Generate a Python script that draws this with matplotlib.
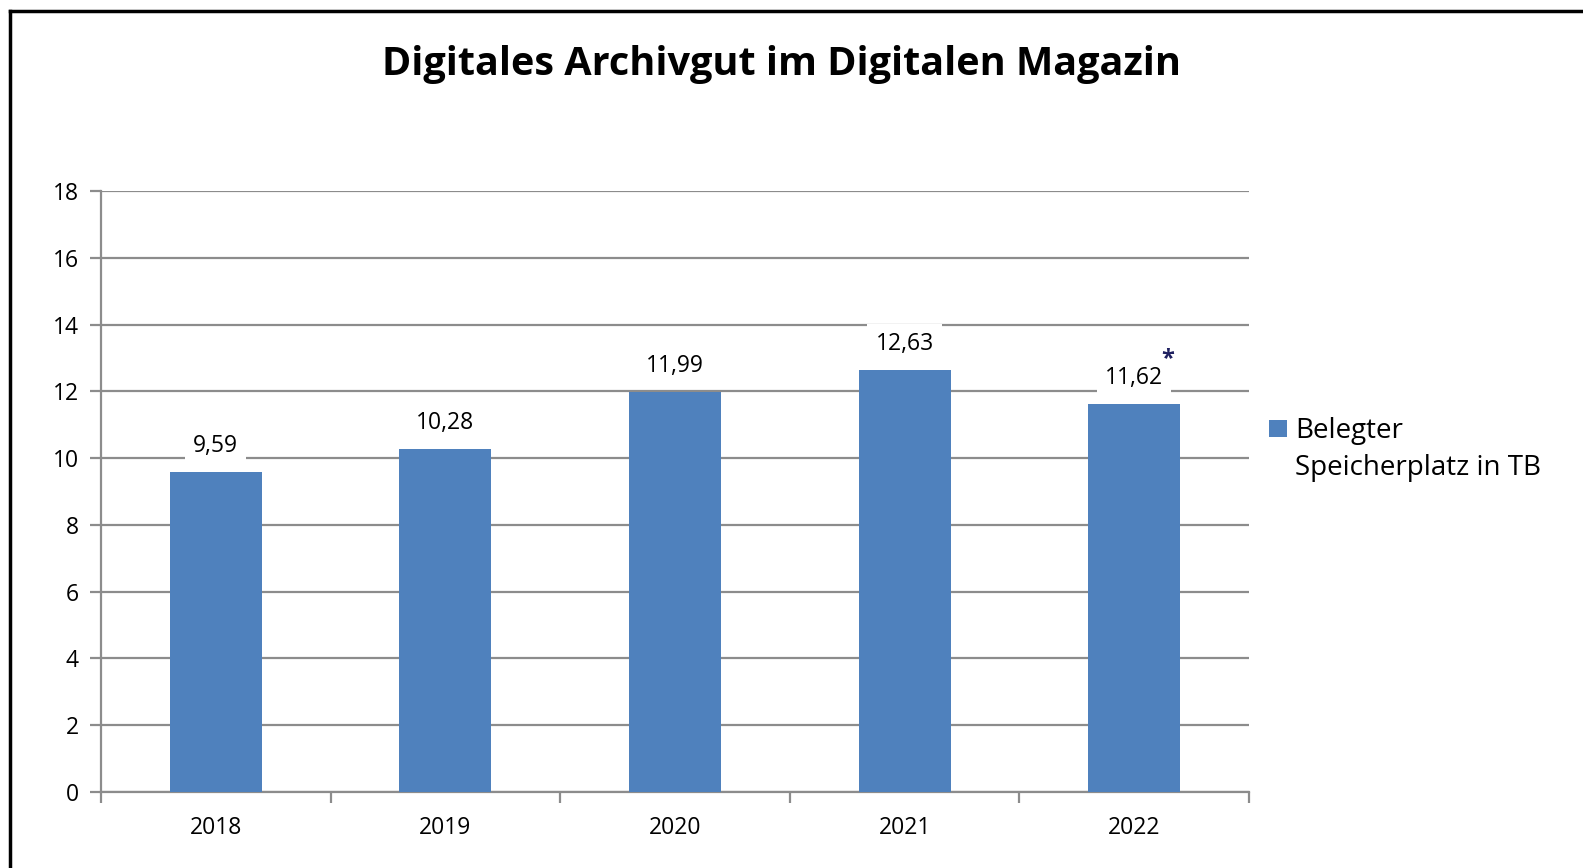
import numpy as np
import matplotlib.pyplot as plt
from matplotlib.lines import Line2D
from matplotlib.patches import Rectangle

years = ["2018", "2019", "2020", "2021", "2022"]
values = [9.59, 10.28, 11.99, 12.63, 11.62]
value_labels = ["9,59", "10,28", "11,99", "12,63", "11,62"]
legend_label = "Belegter\nSpeicherplatz in TB"
title = "Digitales Archivgut im Digitalen Magazin"

bar_color = "#4F81BD"
grid_color = "#8C8C8C"

plt.rcParams['font.family'] = ['Open Sans', 'DejaVu Sans']

fig = plt.figure(figsize=(15.83, 8.68), dpi=100)
W, H = 1583, 868
ax = fig.add_axes([101 / W, 1 - 792 / H, (1249 - 101) / W, (792 - 191) / H])

x = np.arange(len(years))
ax.bar(x, values, width=0.4, color=bar_color, zorder=3)

ax.set_xlim(-0.5, len(years) - 0.5)
ax.set_ylim(0, 18)
ax.set_yticks(np.arange(0, 19, 2))
ax.yaxis.grid(True, color=grid_color, linewidth=1.6, zorder=0)
ax.set_xticks(x)
ax.set_xticklabels(years, fontsize=16.5)
ax.set_xticks(np.arange(-0.5, len(years), 1), minor=True)
ax.tick_params(axis='x', which='major', length=0, pad=17)
ax.tick_params(axis='x', which='minor', length=8, width=1.6, color=grid_color, direction='out')
ax.tick_params(axis='y', length=8, width=1.6, color=grid_color, labelsize=16.5, pad=8)
for s in ['top', 'right']:
    ax.spines[s].set_visible(False)
for s in ['left', 'bottom']:
    ax.spines[s].set_color(grid_color)
    ax.spines[s].set_linewidth(1.6)

for xi, v, lab in zip(x, values, value_labels):
    ax.annotate(lab, (xi, v), xytext=(0, 10), textcoords='offset points',
                ha='center', va='bottom', fontsize=16.5, zorder=4,
                bbox=dict(boxstyle='square,pad=0.35', fc='white', ec='none'))
ax.annotate("*", (x[-1], values[-1]), xytext=(24, 24), textcoords='offset points',
            ha='center', va='bottom', fontsize=17, fontweight='bold', color='#1F2060', zorder=5)

# legend drawn by hand so the square sits on the first line
fig.add_artist(Rectangle((1269 / W, 1 - 437 / H), 18 / W, 17 / H,
                         transform=fig.transFigure, facecolor=bar_color, edgecolor='none'))
fig.text(1295 / W, 1 - 417 / H, legend_label, ha='left', va='top',
         fontsize=20, linespacing=1.45)

fig.text(781 / W, 1 - 65 / H, title, ha='center', va='center', fontsize=28.5, fontweight='bold')

# outer frame (only left and top visible in the crop)
fig.add_artist(Line2D([10 / W, 10 / W], [0, 1 - 11 / H], color='black', linewidth=2.5))
fig.add_artist(Line2D([10 / W, 1], [1 - 11 / H, 1 - 11 / H], color='black', linewidth=2.5))

fig.savefig("out.png", dpi=100)
